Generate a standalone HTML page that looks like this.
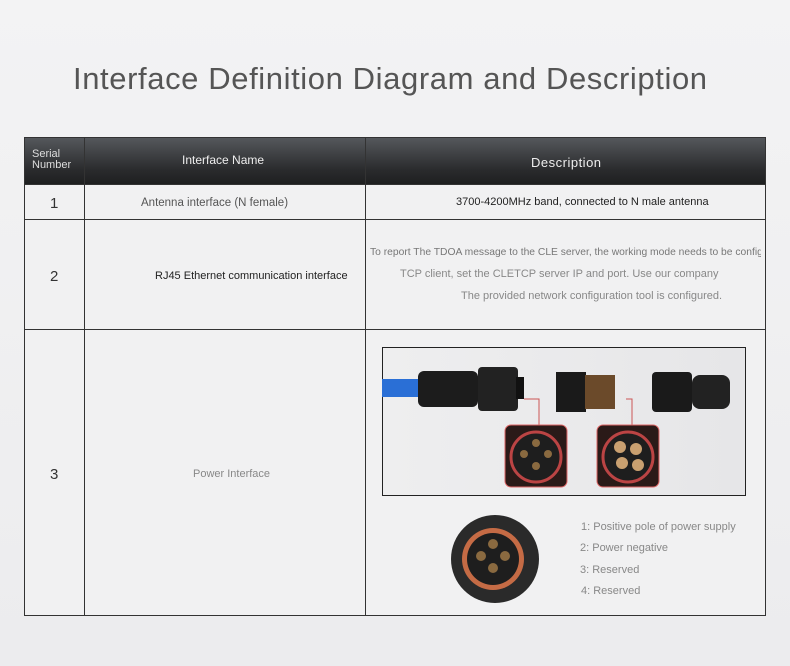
<!DOCTYPE html>
<html><head><meta charset="utf-8"><style>
*{margin:0;padding:0;box-sizing:border-box}
body{width:790px;height:666px;overflow:hidden;background:linear-gradient(180deg,#f3f3f4,#ececee);font-family:"Liberation Sans",sans-serif;position:relative}
.a{position:absolute}
.t{position:absolute;white-space:nowrap}
.hl{position:absolute;height:1px;background:#333}
.vl{position:absolute;width:1px;background:#333}
</style></head><body>
<div class="t" style="left:73px;top:61px;font-size:31px;color:#555;letter-spacing:0.6px">Interface Definition Diagram and Description</div>
<div class="a" style="left:24px;top:137px;width:742px;height:47px;background:linear-gradient(180deg,#56595d,#2a2b2d 70%,#1e1f20)"></div>
<div class="a" style="left:24px;top:184px;width:742px;height:431px;background:#f1f1f2"></div>
<div class="hl" style="left:24px;top:137px;width:742px"></div>
<div class="hl" style="left:24px;top:184px;width:742px"></div>
<div class="hl" style="left:24px;top:219px;width:742px"></div>
<div class="hl" style="left:24px;top:329px;width:742px"></div>
<div class="hl" style="left:24px;top:615px;width:742px"></div>
<div class="vl" style="left:24px;top:137px;height:479px"></div>
<div class="vl" style="left:84px;top:137px;height:479px"></div>
<div class="vl" style="left:365px;top:137px;height:479px"></div>
<div class="vl" style="left:765px;top:137px;height:479px"></div>
<div class="t" style="left:32px;top:149px;font-size:11px;line-height:11px;color:#ddd">Serial<br>Number</div>
<div class="t" style="left:182px;top:153px;font-size:12px;color:#eee">Interface Name</div>
<div class="t" style="left:531px;top:155px;font-size:13px;color:#eee;letter-spacing:0.5px">Description</div>
<div class="t" style="left:50px;top:195px;font-size:15px;color:#333">1</div>
<div class="t" style="left:141px;top:197px;font-size:11.5px;color:#555">Antenna interface (N female)</div>
<div class="t" style="left:456px;top:196px;font-size:11px;color:#222">3700-4200MHz band, connected to N male antenna</div>
<div class="t" style="left:50px;top:268px;font-size:15px;color:#333">2</div>
<div class="t" style="left:155px;top:270px;font-size:11px;color:#222">RJ45 Ethernet communication interface</div>
<div class="a" style="left:366px;top:240px;width:395px;height:20px;overflow:hidden"><div class="t" style="left:4px;top:7px;font-size:10.3px;color:#777">To report The TDOA message to the CLE server, the working mode needs to be configured</div></div>
<div class="t" style="left:400px;top:268px;font-size:11px;color:#888">TCP client, set the CLETCP server IP and port. Use our company</div>
<div class="t" style="left:461px;top:290px;font-size:11px;color:#888">The provided network configuration tool is configured.</div>
<div class="t" style="left:50px;top:466px;font-size:15px;color:#333">3</div>
<div class="t" style="left:193px;top:468px;font-size:11px;color:#888">Power Interface</div>
<div class="a" style="left:382px;top:347px;width:364px;height:149px;border:1.5px solid #222;background:linear-gradient(90deg,#eeeeef,#e6e6e8)"></div>
<svg class="a" style="left:382px;top:347px" width="364" height="149">
<rect x="0" y="32" width="40" height="18" fill="#2a6fd6"/>
<rect x="36" y="24" width="60" height="36" rx="6" fill="#1c1c1c"/>
<rect x="96" y="20" width="40" height="44" rx="4" fill="#222"/>
<rect x="134" y="30" width="8" height="22" fill="#111"/>
<rect x="174" y="25" width="30" height="40" fill="#1a1a1a"/>
<rect x="203" y="28" width="30" height="34" fill="#6b4a2a"/>
<rect x="270" y="25" width="40" height="40" rx="4" fill="#1a1a1a"/>
<rect x="310" y="28" width="38" height="34" rx="8" fill="#222"/>
<polyline points="142,52 157,52 157,80" fill="none" stroke="#c55" stroke-width="1"/>
<polyline points="244,52 250,52 250,80" fill="none" stroke="#c55" stroke-width="1"/>
<rect x="123" y="78" width="62" height="62" rx="6" fill="#2a1a18" stroke="#d66"/>
<circle cx="154" cy="110" r="25" fill="#1e1e1e" stroke="#b44" stroke-width="3"/>
<circle cx="154" cy="96" r="4" fill="#8a6a40"/><circle cx="142" cy="107" r="4" fill="#8a6a40"/><circle cx="166" cy="107" r="4" fill="#8a6a40"/><circle cx="154" cy="119" r="4" fill="#8a6a40"/>
<rect x="215" y="78" width="62" height="62" rx="6" fill="#2a1a18" stroke="#d66"/>
<circle cx="246" cy="110" r="25" fill="#1e1e1e" stroke="#b44" stroke-width="3"/>
<circle cx="238" cy="100" r="6" fill="#c9a070"/><circle cx="254" cy="102" r="6" fill="#c9a070"/><circle cx="240" cy="116" r="6" fill="#c9a070"/><circle cx="256" cy="118" r="6" fill="#c9a070"/>
</svg>
<svg class="a" style="left:445px;top:512px" width="110" height="95">
<circle cx="50" cy="47" r="44" fill="#2a2a2a"/>
<circle cx="48" cy="47" r="31" fill="#c56b45"/>
<circle cx="48" cy="47" r="26" fill="#1e1e1e"/>
<circle cx="48" cy="32" r="5" fill="#8a6a40"/><circle cx="36" cy="44" r="5" fill="#8a6a40"/><circle cx="60" cy="44" r="5" fill="#8a6a40"/><circle cx="48" cy="56" r="5" fill="#8a6a40"/>
</svg>
<div class="t" style="left:581px;top:521px;font-size:11px;color:#888">1: Positive pole of power supply</div>
<div class="t" style="left:580px;top:542px;font-size:11px;color:#888">2: Power negative</div>
<div class="t" style="left:580px;top:564px;font-size:11px;color:#888">3: Reserved</div>
<div class="t" style="left:581px;top:585px;font-size:11px;color:#888">4: Reserved</div>
</body></html>
